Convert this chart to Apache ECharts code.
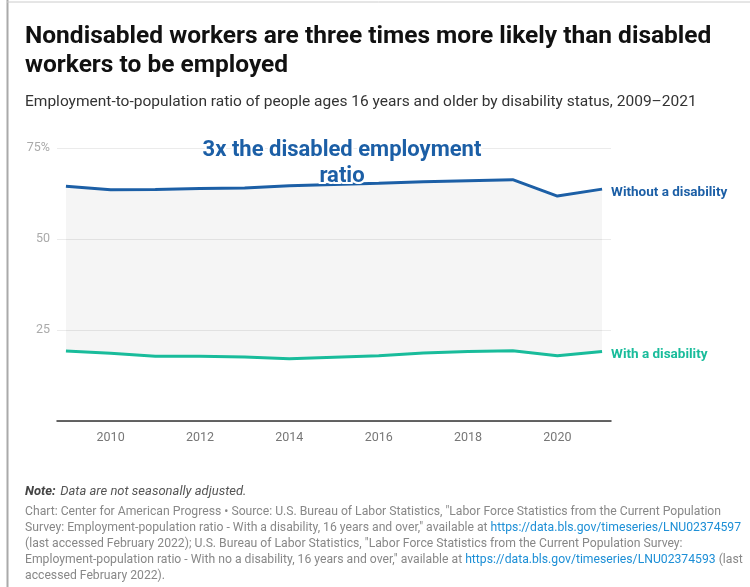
<!DOCTYPE html>
<html>
<head>
<meta charset="utf-8">
<script src="https://cdn.jsdelivr.net/npm/echarts@6/dist/echarts.min.js"></script>
<style>
  html, body { margin: 0; padding: 0; background: #fff; }
  #chart { width: 750px; height: 587px; }
</style>
</head>
<body>
<div id="chart"></div>
<script>
  // employment-to-population ratio, %
  const years = [2009, 2010, 2011, 2012, 2013, 2014, 2015, 2016, 2017, 2018, 2019, 2020, 2021];
  const withoutDisability = [64.5, 63.5, 63.6, 63.9, 64.0, 64.6, 65.0, 65.3, 65.7, 66.0, 66.3, 61.8, 63.7];
  const withDisability = [19.2, 18.6, 17.8, 17.8, 17.6, 17.1, 17.5, 17.9, 18.7, 19.1, 19.3, 17.9, 19.1];
  const xTicks = [2010, 2012, 2014, 2016, 2018, 2020];
  const yTicks = [0, 25, 50, 75];

  const blue = "#1c5fa6";
  const teal = "#19bc9b";
  const font = "Roboto";

  let myChart = echarts.init(document.getElementById("chart"));

  let option = {
    animation: false,
    textStyle: { fontFamily: font },
    title: [
      {
        text: "Nondisabled workers are three times more likely than disabled\nworkers to be employed",
        left: 20,
        top: 17,
        textStyle: { fontSize: 24.5, fontWeight: "bold", color: "#111", lineHeight: 29, fontFamily: font }
      },
      {
        text: "Employment-to-population ratio of people ages 16 years and older by disability status, 2009–2021",
        left: 20,
        top: 89,
        textStyle: { fontSize: 15.5, fontWeight: "normal", color: "#333", fontFamily: font }
      },
      {
        text: "{b|Note:} {i|Data are not seasonally adjusted.}",
        left: 20,
        top: 478,
        textStyle: {
          fontWeight: "normal",
          rich: {
            b: { fontSize: 13, fontWeight: "bold", fontStyle: "italic", color: "#444", fontFamily: font },
            i: { fontSize: 13, fontWeight: "normal", fontStyle: "italic", color: "#555", fontFamily: font }
          }
        }
      },
      {
        text:
          "Chart: Center for American Progress • Source: U.S. Bureau of Labor Statistics, \"Labor Force Statistics from the Current Population\n" +
          "Survey: Employment-population ratio - With a disability, 16 years and over,\" available at {a|https://data.bls.gov/timeseries/LNU02374597}\n" +
          "(last accessed February 2022); U.S. Bureau of Labor Statistics, \"Labor Force Statistics from the Current Population Survey:\n" +
          "Employment-population ratio - With no a disability, 16 years and over,\" available at {a|https://data.bls.gov/timeseries/LNU02374593} (last\n" +
          "accessed February 2022).",
        left: 20,
        top: 499,
        textStyle: {
          fontSize: 12.2,
          lineHeight: 16,
          color: "#888",
          fontWeight: "normal",
          fontFamily: font,
          rich: {
            a: { fontSize: 12.2, lineHeight: 16, color: "#1d8fd6", fontFamily: font }
          }
        }
      }
    ],
    graphic: [
      { type: "line", shape: { x1: 7.5, y1: 0, x2: 7.5, y2: 587 }, style: { stroke: "#aaa", lineWidth: 2 } },
      { type: "line", shape: { x1: 7, y1: 2, x2: 750, y2: 2 }, style: { stroke: "#ccc", lineWidth: 1 } },
      {
        type: "text",
        x: 342,
        y: 137,
        z: 100,
        style: {
          text: "3x the disabled employment\nratio",
          align: "center",
          verticalAlign: "top",
          fill: blue,
          font: "bold 22px Roboto",
          lineHeight: 26,
          stroke: "#fff",
          lineWidth: 4
        }
      }
    ],
    grid: { left: 57, right: 139, top: 148, bottom: 166 },
    xAxis: {
      type: "value",
      min: 2008.8,
      max: 2021.2,
      z: 10,
      axisLine: { show: true, onZero: false, lineStyle: { color: "#333", width: 1.5 } },
      axisTick: { show: false },
      splitLine: { show: false },
      axisLabel: {
        customValues: xTicks,
        color: "#777",
        fontSize: 12.5,
        margin: 10,
        formatter: v => String(v)
      }
    },
    yAxis: {
      type: "value",
      min: 0,
      max: 75,
      interval: 25,
      axisLine: { show: false },
      axisTick: { show: false },
      splitLine: { lineStyle: { color: "#ebebeb", width: 1 } },
      axisLabel: {
        customValues: yTicks,
        color: "#aaa",
        fontSize: 12.5,
        margin: 7,
        formatter: v => (v === 0 ? "" : v === 75 ? "75%" : String(v))
      }
    },
    series: [
      {
        name: "Without a disability",
        type: "line",
        data: years.map((y, i) => [y, withoutDisability[i]]),
        symbol: "none",
        lineStyle: { color: blue, width: 3 },
        itemStyle: { color: blue },
        areaStyle: { color: "rgba(0,0,0,0.055)", origin: "start" },
        z: 3,
        endLabel: {
          show: true,
          formatter: "{a}",
          distance: 9,
          offset: [0, 3],
          color: blue,
          fontWeight: "bold",
          fontSize: 13.5,
          fontFamily: font
        }
      },
      {
        name: "With a disability",
        type: "line",
        data: years.map((y, i) => [y, withDisability[i]]),
        symbol: "none",
        lineStyle: { color: teal, width: 3 },
        itemStyle: { color: teal },
        areaStyle: { color: "#fff", opacity: 1, origin: "start" },
        z: 4,
        endLabel: {
          show: true,
          formatter: "{a}",
          distance: 9,
          offset: [0, 3],
          color: teal,
          fontWeight: "bold",
          fontSize: 13.5,
          fontFamily: font
        }
      }
    ]
  };
  myChart.setOption(option);
</script>
</body>
</html>
